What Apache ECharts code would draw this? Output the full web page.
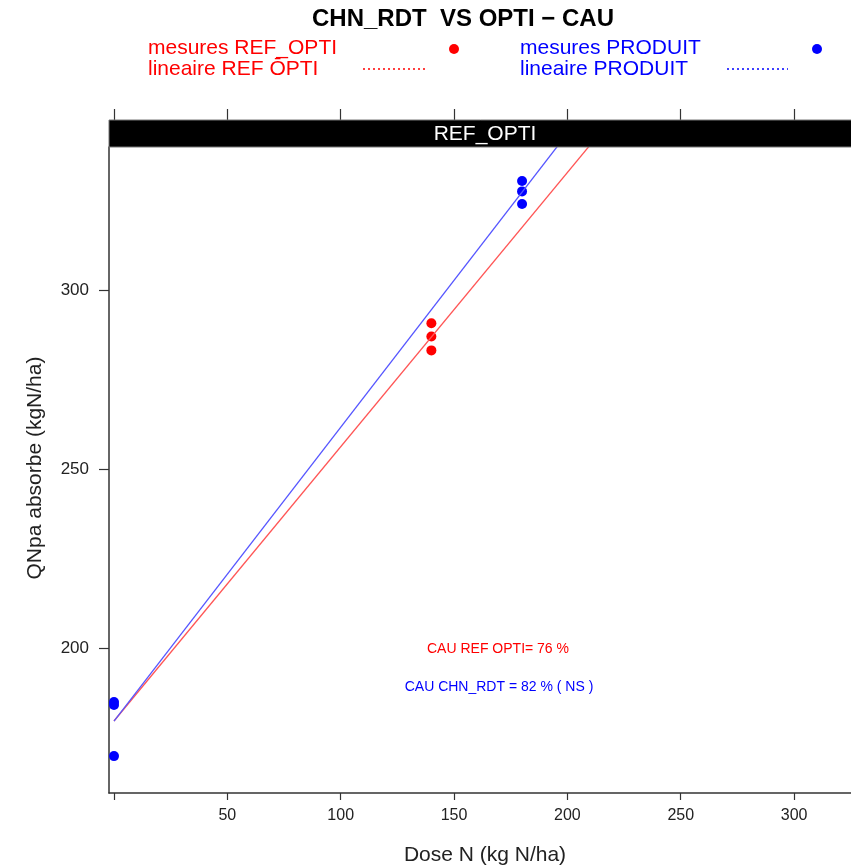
<!DOCTYPE html>
<html>
<head>
<meta charset="utf-8">
<script src="https://cdn.jsdelivr.net/npm/echarts@6/dist/echarts.min.js"></script>
<style>
html,body{margin:0;padding:0;background:#fff;}
#chart{width:851px;height:866px;}
</style>
</head>
<body>
<div id="chart"></div>
<script>
// ---- data ----
var refDose = [140, 140, 140];
var refQN = [290.7, 287.0, 283.1];
var prodDose = [0, 0, 0, 180, 180, 180];
var prodQN = [184.9, 184.1, 169.8, 330.4, 327.5, 324.0];
var refFitX = [0, 220];
var refFitY = [179.6, 348.1];
var prodFitX = [0, 200];
var prodFitY = [179.6, 343.7];
var xTicks = [0, 50, 100, 150, 200, 250, 300];
var xTickLabels = [50, 100, 150, 200, 250, 300];
var yTicks = [200, 250, 300];
var titleText = 'CHN_RDT  VS OPTI \u2212 CAU';
var stripText = 'REF_OPTI';
var legendRef = ['mesures REF_OPTI', 'lineaire REF \u014CPTI'];
var legendProd = ['mesures PRODUIT', 'lineaire PRODUIT'];
var noteRef = 'CAU REF OPTI= 76 %';
var noteProd = 'CAU CHN_RDT = 82 % ( NS )';
var xName = 'Dose N (kg N/ha)';
var yName = 'QNpa absorbe (kgN/ha)';

function pairs(xs, ys){ return xs.map(function(x,i){return [x, ys[i]];}); }

var RED = '#ff0000', BLUE = '#0000ff';
var FONT = 'Liberation Sans, Arial, sans-serif';
var AX = '#333333';

var chart = echarts.init(document.getElementById('chart'), null, {renderer:'canvas'});
var option = {
  animation: false,
  backgroundColor: '#ffffff',
  grid: { left: 109, top: 147, right: 0, bottom: 73, containLabel: false },
  xAxis: [{
    type: 'value', min: -2.2, max: 325.1, position: 'bottom',
    axisLine: { show: true, onZero: false, lineStyle: { color: AX, width: 1.5 } },
    axisTick: { show: true, length: 7, lineStyle: { color: AX, width: 1.2 }, customValues: xTicks },
    axisLabel: { show: true, margin: 15, fontSize: 16, color: '#222', fontFamily: FONT, customValues: xTickLabels },
    splitLine: { show: false }
  }, {
    type: 'value', min: -2.2, max: 325.1, position: 'top', offset: 27,
    axisLine: { show: false, onZero: false },
    axisTick: { show: true, length: 11, lineStyle: { color: AX, width: 1.2 }, customValues: xTicks },
    axisLabel: { show: false },
    splitLine: { show: false }
  }],
  yAxis: [{
    type: 'value', min: 159.5, max: 339.9, position: 'left',
    axisLine: { show: true, onZero: false, lineStyle: { color: AX, width: 1.5 } },
    axisTick: { show: true, length: 10, lineStyle: { color: AX, width: 1.2 }, customValues: yTicks },
    axisLabel: { show: true, margin: 20, fontSize: 17, color: '#222', fontFamily: FONT, customValues: yTicks },
    splitLine: { show: false }
  }],
  series: [
    { type: 'scatter', name: 'ref', data: pairs(refDose, refQN), symbol: 'circle', symbolSize: 10,
      itemStyle: { color: RED, opacity: 1 }, z: 3 },
    { type: 'scatter', name: 'prod', data: pairs(prodDose, prodQN), symbol: 'circle', symbolSize: 10,
      itemStyle: { color: BLUE, opacity: 1 }, z: 3 },
    { type: 'line', name: 'refFit', data: pairs(refFitX, refFitY), showSymbol: false, clip: true,
      lineStyle: { color: '#ff5555', width: 1.3 }, z: 4 },
    { type: 'line', name: 'prodFit', data: pairs(prodFitX, prodFitY), showSymbol: false, clip: true,
      lineStyle: { color: '#5555ff', width: 1.3 }, z: 4 }
  ],
  graphic: [
    { type: 'rect', shape: { x: 109, y: 120, width: 760, height: 27 }, style: { fill: '#000', stroke: '#777', lineWidth: 1 }, z: 10 },
    { type: 'text', x: 485, y: 134, z: 11, style: { text: stripText, fill: '#fff', font: '21px ' + FONT, textAlign: 'center', textVerticalAlign: 'middle' } },
    { type: 'text', x: 463, y: 19, style: { text: titleText, fill: '#000', font: 'bold 24px ' + FONT, textAlign: 'center', textVerticalAlign: 'middle' } },
    { type: 'text', x: 148, y: 48, style: { text: legendRef[0], fill: RED, font: '21px ' + FONT, textAlign: 'left', textVerticalAlign: 'middle' } },
    { type: 'text', x: 148, y: 69, style: { text: legendRef[1], fill: RED, font: '21px ' + FONT, textAlign: 'left', textVerticalAlign: 'middle' } },
    { type: 'circle', shape: { cx: 454, cy: 49, r: 5 }, style: { fill: RED } },
    { type: 'line', shape: { x1: 363, y1: 69, x2: 426, y2: 69 }, style: { stroke: RED, lineWidth: 1.3, lineDash: [2, 3] } },
    { type: 'text', x: 520, y: 48, style: { text: legendProd[0], fill: BLUE, font: '21px ' + FONT, textAlign: 'left', textVerticalAlign: 'middle' } },
    { type: 'text', x: 520, y: 69, style: { text: legendProd[1], fill: BLUE, font: '21px ' + FONT, textAlign: 'left', textVerticalAlign: 'middle' } },
    { type: 'circle', shape: { cx: 817, cy: 49, r: 5 }, style: { fill: BLUE } },
    { type: 'line', shape: { x1: 727, y1: 69, x2: 788, y2: 69 }, style: { stroke: BLUE, lineWidth: 1.3, lineDash: [2, 3] } },
    { type: 'text', x: 498, y: 649, style: { text: noteRef, fill: RED, font: '14px ' + FONT, textAlign: 'center', textVerticalAlign: 'middle' } },
    { type: 'text', x: 499, y: 687, style: { text: noteProd, fill: BLUE, font: '14px ' + FONT, textAlign: 'center', textVerticalAlign: 'middle' } },
    { type: 'text', x: 485, y: 855, style: { text: xName, fill: '#222', font: '21px ' + FONT, textAlign: 'center', textVerticalAlign: 'middle' } },
    { type: 'text', x: 35, y: 468, rotation: Math.PI / 2, style: { text: yName, fill: '#222', font: '21px ' + FONT, textAlign: 'center', textVerticalAlign: 'middle' } }
  ]
};
chart.setOption(option);
</script>
</body>
</html>
